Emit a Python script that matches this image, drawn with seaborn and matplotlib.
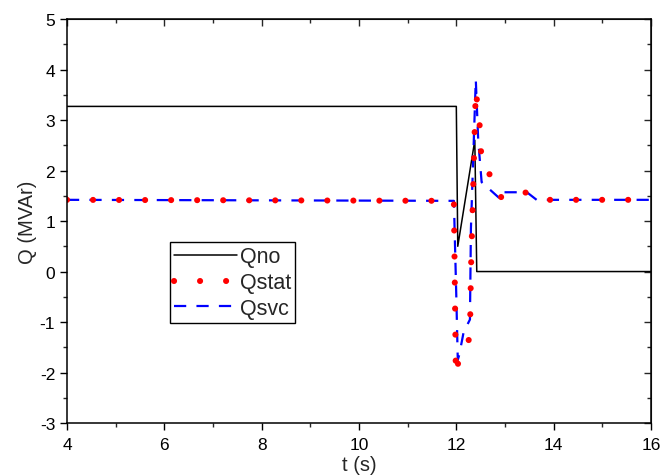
import numpy as np
import pandas as pd
import matplotlib
matplotlib.use("Agg")
import matplotlib.pyplot as plt
from matplotlib.ticker import MultipleLocator
from matplotlib.lines import Line2D
import seaborn as sns

# ---- data ----
t_no = [4.0, 12.0, 12.03, 12.38, 12.42, 16.0]
q_no = [3.27, 3.27, 0.5, 2.6, 0.0, 0.0]

t_stat = [4.0, 11.95, 11.99, 12.02, 12.05, 12.28, 12.3, 12.4, 12.49, 12.52, 12.8, 12.93, 13.45, 13.82, 16.0]
q_stat = [1.42, 1.40, -2.05, -1.85, -1.8, -1.3, 0.0, 3.6, 2.8, 2.1, 1.8, 1.45, 1.57, 1.42, 1.42]

t_svc = [4.0, 11.95, 12.0, 12.03, 12.06, 12.15, 12.28, 12.3, 12.4, 12.45, 12.52, 12.9, 12.95, 13.45, 13.65, 16.0]
q_svc = [1.42, 1.40, -0.5, -1.75, -1.65, -1.2, -0.95, 0.85, 3.8, 2.6, 1.77, 1.44, 1.57, 1.57, 1.42, 1.42]

df_no = pd.DataFrame({"t": t_no, "Q": q_no})
df_stat = pd.DataFrame({"t": t_stat, "Q": q_stat})
df_svc = pd.DataFrame({"t": t_svc, "Q": q_svc})

sns.set_style("ticks")
plt.rcParams["font.family"] = ["Liberation Sans", "DejaVu Sans"]
plt.rcParams["axes.unicode_minus"] = False

fig = plt.figure(figsize=(6.67, 4.77), dpi=100)
ax = fig.add_axes([0.1004, 0.111, 0.8756, 0.847])

RED_LW = 4.4
RED_DASH = (0.01, 4.25)
BLUE_LW = 1.6
BLUE_DASH = (5.5, 4.6)

sns.lineplot(data=df_no, x="t", y="Q", ax=ax, color="black", linewidth=1.1,
             sort=False, estimator=None)
sns.lineplot(data=df_svc, x="t", y="Q", ax=ax, color="#0000ff", linewidth=BLUE_LW,
             sort=False, estimator=None)
ls_svc = ax.lines[-1]
ls_svc.set_dashes(BLUE_DASH)
sns.lineplot(data=df_stat, x="t", y="Q", ax=ax, color="#ff0000", linewidth=RED_LW,
             sort=False, estimator=None)
ls_stat = ax.lines[-1]
ls_stat.set_dashes(RED_DASH)
ls_stat.set_dash_capstyle("round")

ax.set_xlim(4, 16)
ax.set_ylim(-3, 5)
ax.xaxis.set_major_locator(MultipleLocator(2))
ax.xaxis.set_minor_locator(MultipleLocator(1))
ax.yaxis.set_major_locator(MultipleLocator(1))
ax.yaxis.set_minor_locator(MultipleLocator(0.5))
ax.tick_params(which="major", direction="out", length=5, width=1.0, labelsize=12.5, colors="black")
ax.tick_params(axis="x", which="major", pad=5)
ax.tick_params(which="minor", direction="out", length=3, width=1.0)
for s in ax.spines.values():
    s.set_linewidth(1.1)
    s.set_color("black")

# top/right inward ticks
secx = ax.secondary_xaxis("top")
secx.xaxis.set_major_locator(MultipleLocator(2))
secx.xaxis.set_minor_locator(MultipleLocator(1))
secx.tick_params(which="major", direction="in", length=5, width=1.0, labeltop=False)
secx.tick_params(which="minor", direction="in", length=3, width=1.0)
secy = ax.secondary_yaxis("right")
secy.yaxis.set_major_locator(MultipleLocator(1))
secy.yaxis.set_minor_locator(MultipleLocator(0.5))
secy.tick_params(which="major", direction="in", length=5, width=1.0, labelright=False)
secy.tick_params(which="minor", direction="in", length=3, width=1.0)

ax.set_xlabel("t (s)", fontsize=14.5, labelpad=2)
ax.set_ylabel("Q (MVAr)", fontsize=14.5, labelpad=2)

h_no = Line2D([], [], color="black", linewidth=1.1)
h_stat = Line2D([], [], color="#ff0000", linewidth=RED_LW, dashes=RED_DASH, dash_capstyle="round")
h_svc = Line2D([], [], color="#0000ff", linewidth=BLUE_LW, dashes=BLUE_DASH)
leg = ax.legend([h_no, h_stat, h_svc], ["Qno", "Qstat", "Qsvc"],
                loc="upper left", bbox_to_anchor=(0.176, 0.447), fontsize=15.5,
                frameon=True, fancybox=False, edgecolor="black", framealpha=1,
                handlelength=2.95, handletextpad=0.15, borderpad=0.18, labelspacing=0.22,
                borderaxespad=0)
leg.get_frame().set_linewidth(1.0)

fig.savefig("out.png", dpi=100)
